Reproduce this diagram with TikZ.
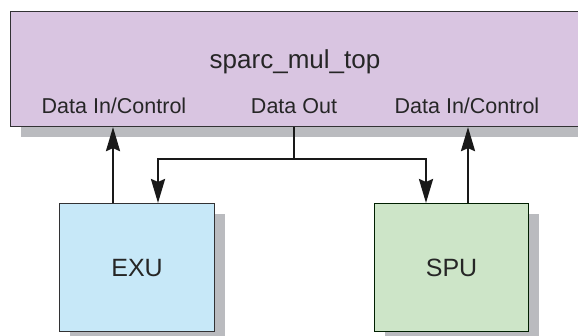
\documentclass[tikz,border=0pt]{standalone}
\usepackage{fontspec}
\setmainfont{Liberation Sans}
\usetikzlibrary{arrows.meta}
\definecolor{toppurple}{RGB}{217,197,225}
\definecolor{exublue}{RGB}{199,232,248}
\definecolor{spugreen}{RGB}{205,229,200}
\definecolor{shadowgrey}{RGB}{186,187,191}
\definecolor{edgegrey}{RGB}{50,50,52}
\tikzset{
  blk/.style={draw=edgegrey, line width=1.1pt, rectangle, inner sep=0pt, anchor=north west},
  shd/.style={fill=shadowgrey, draw=none},
  lbl/.style={font=\fontsize{21.5}{24}\selectfont, text=black!85, anchor=base, inner sep=0pt},
  big/.style={font=\fontsize{26}{30}\selectfont, text=black!85, inner sep=0pt},
  arr/.style={line width=2.6pt, draw=black!90, -{Stealth[length=24pt,width=14pt,inset=3pt]}},
  wire/.style={line width=2.6pt, draw=black!90}
}
\begin{document}
\begin{tikzpicture}[x=1pt,y=-1pt]
\useasboundingbox (0,0) rectangle (578,335);
\clip (0,0) rectangle (578,335);
% shadows
\fill[shd] (21,126) rectangle (600,137);
\fill[shd] (70,214) rectangle (225,345);
\fill[shd] (385,214) rectangle (539,345);
% top block
\node[blk, fill=toppurple, minimum width=590pt, minimum height=115pt] (top) at (10,11) {};
\node[big, anchor=base] (title) at (295,68) {sparc\_mul\_top};
\node[lbl] (dinL) at (114,113) {Data In/Control};
\node[lbl] (dout) at (294,113) {Data Out};
\node[lbl] (dinR) at (467,113) {Data In/Control};
% lower blocks
\node[blk, fill=exublue, minimum width=155pt, minimum height=128pt] (exu) at (59,203) {};
\node[big, font=\fontsize{25}{30}\selectfont] at (exu.center) {EXU};
\node[blk, fill=spugreen, draw=black!70!green!40!black, minimum width=154pt, minimum height=128pt] (spu) at (374,203) {};
\node[big, font=\fontsize{25}{30}\selectfont] at (spu.center) {SPU};
% connector points
\coordinate (jn) at (294,159);
\coordinate (upL) at (113,0);
\coordinate (dnL) at (158,0);
\coordinate (dnR) at (426,0);
\coordinate (upR) at (468,0);
% connectors
\draw[arr] (exu.north -| upL) -- (top.south -| upL);
\draw[arr] (spu.north -| upR) -- (top.south -| upR);
\draw[wire] (top.south -| jn) -- (jn);
\draw[arr] ([xshift=1.3pt]jn) -- (jn -| dnL) -- (exu.north -| dnL);
\draw[arr] ([xshift=-1.3pt]jn) -- (jn -| dnR) -- (spu.north -| dnR);
\end{tikzpicture}
\end{document}
